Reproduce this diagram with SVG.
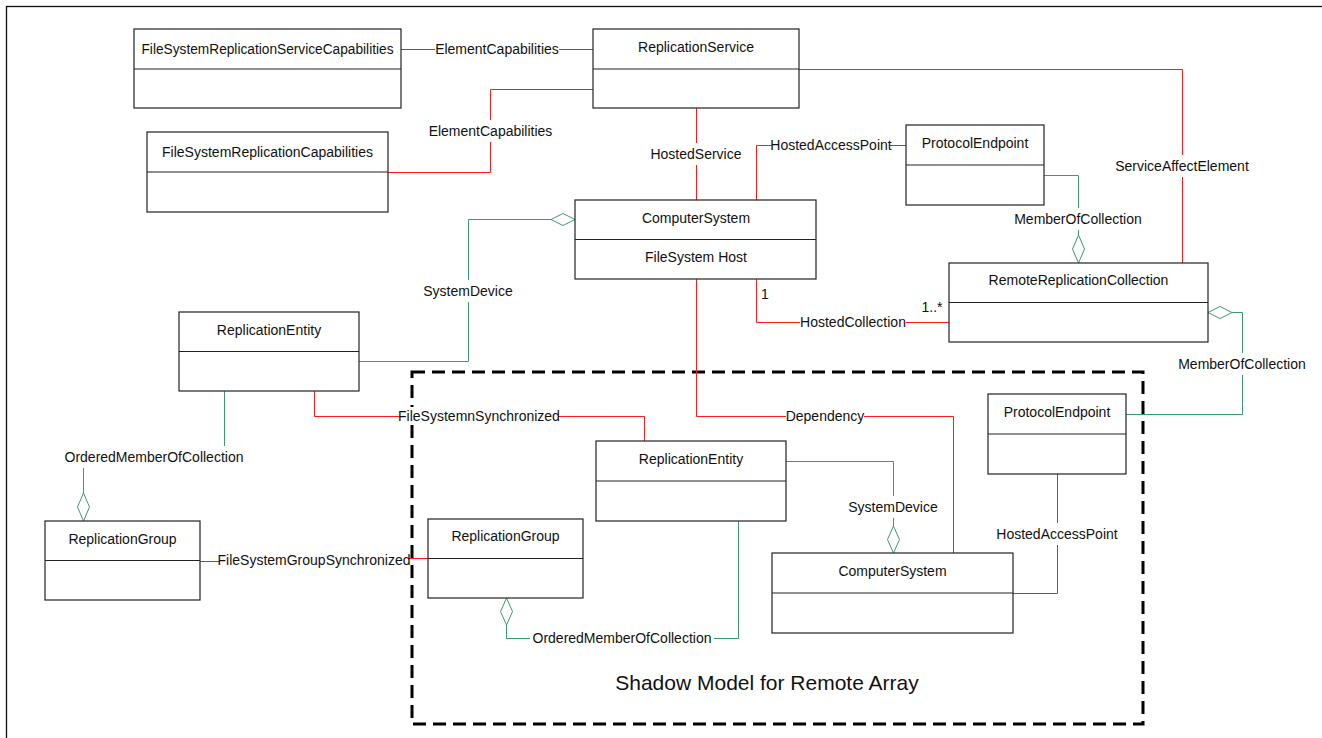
<svg xmlns="http://www.w3.org/2000/svg" width="1322" height="738" viewBox="0 0 1322 738">
<style>
.box{fill:#fff;stroke:#222;stroke-width:1.2}
.div{stroke:#222;stroke-width:1.2}
.t{font-family:"Liberation Sans",Arial,sans-serif;font-size:14px;fill:#111;text-anchor:middle}
.red{fill:none;stroke:#ff1a1a;stroke-width:1}
.grn{fill:none;stroke:#3d9a6a;stroke-width:1}
.dia{fill:#fff;stroke:#3d9a6a;stroke-width:1}
.bg{fill:#fff}
.big{font-family:"Liberation Sans",Arial,sans-serif;font-size:21px;fill:#111;text-anchor:middle}
</style>
<rect x="0" y="0" width="1322" height="738" fill="#fff"/>
<rect x="6.5" y="6.5" width="1330" height="745" fill="none" stroke="#111" stroke-width="1.3"/>
<rect id="shadow-frame" x="412" y="372" width="731" height="352" fill="none" stroke="#000" stroke-width="3" stroke-dasharray="13 7"/>
<text class="big" x="767" y="690">Shadow Model for Remote Array</text>

<g id="connectors">
<path class="red" d="M401 49.5 H593"/>
<path class="red" d="M593 89.5 H490.5 V172.5 H388"/>
<path class="red" d="M696.5 108 V200"/>
<path class="red" d="M756.5 200 V145.5 H906"/>
<path class="red" d="M799 69.5 H1182.5 V263"/>
<path class="red" d="M756.5 279 V322.5 H949"/>
<path class="red" d="M314.5 391 V416.5 H644.5 V441"/>
<path class="red" d="M696.5 279 V416.5 H953.5 V553"/>
<path class="red" d="M1057.5 474 V593.5 H1013"/>
<path class="red" d="M200 561.5 H314 V558.5 H428"/>
<path class="grn" d="M1044 175.5 H1078.5 V235"/>
<path class="dia" d="M1078.5 235 L1084.5 249 L1078.5 263 L1072.5 249 Z"/>
<path class="grn" d="M1126 414.5 H1242.5 V312.5 H1232"/>
<path class="dia" d="M1208 312.5 L1220 306.5 L1232 312.5 L1220 318.5 Z"/>
<path class="grn" d="M359 361.5 H468.5 V219.5 H551"/>
<path class="dia" d="M551 219.5 L563 213.5 L575 219.5 L563 225.5 Z"/>
<path class="grn" d="M224.5 391 V457.5 H83.5 V493"/>
<path class="dia" d="M83.5 493 L89.5 507 L83.5 521 L77.5 507 Z"/>
<path class="grn" d="M786 461.5 H893.5 V526"/>
<path class="dia" d="M893.5 526 L899.5 539.5 L893.5 553 L887.5 539.5 Z"/>
<path class="grn" d="M738.5 521 V638.5 H506.5 V625"/>
<path class="dia" d="M506.5 598 L512.5 611.5 L506.5 625 L500.5 611.5 Z"/>

<rect class="bg" x="435" y="40" width="124" height="18"/>
<text class="t" x="497" y="54">ElementCapabilities</text>
<rect class="bg" x="428" y="120" width="125" height="22"/>
<text class="t" x="490.5" y="136">ElementCapabilities</text>
<rect class="bg" x="651" y="143" width="90" height="22"/>
<text class="t" x="696" y="159">HostedService</text>
<rect class="bg" x="772" y="136" width="118" height="18"/>
<text class="t" x="831" y="150">HostedAccessPoint</text>
<rect class="bg" x="1114" y="155" width="136" height="22"/>
<text class="t" x="1182" y="171">ServiceAffectElement</text>
<rect class="bg" x="1013" y="208" width="131" height="22"/>
<text class="t" x="1078" y="224">MemberOfCollection</text>
<rect class="bg" x="800" y="313" width="106" height="18"/>
<text class="t" x="853" y="327">HostedCollection</text>
<text class="t" x="765" y="299">1</text>
<text class="t" x="932" y="312">1..*</text>
<rect class="bg" x="1177" y="353" width="131" height="22"/>
<text class="t" x="1242" y="369">MemberOfCollection</text>
<rect class="bg" x="424" y="280" width="88" height="22"/>
<text class="t" x="468" y="296">SystemDevice</text>
<rect class="bg" x="61" y="446" width="185" height="22"/>
<text class="t" x="154" y="462">OrderedMemberOfCollection</text>
<rect class="bg" x="400" y="407" width="158" height="18"/>
<text class="t" x="479" y="421">FileSystemnSynchronized</text>
<rect class="bg" x="786" y="407" width="78" height="18"/>
<text class="t" x="825" y="421">Dependency</text>
<rect class="bg" x="849" y="496" width="89" height="22"/>
<text class="t" x="893" y="512">SystemDevice</text>
<rect class="bg" x="997" y="523" width="120" height="22"/>
<text class="t" x="1057" y="539">HostedAccessPoint</text>
<rect class="bg" x="220" y="551" width="189" height="18"/>
<text class="t" x="314" y="565">FileSystemGroupSynchronized</text>
<rect class="bg" x="530" y="629" width="184" height="18"/>
<text class="t" x="622" y="643">OrderedMemberOfCollection</text>
</g>

<g id="fsrsc">
<rect class="box" x="134" y="29" width="267" height="79"/>
<line class="div" x1="134" y1="69" x2="401" y2="69"/>
<text class="t" x="267.5" y="54" textLength="252" lengthAdjust="spacingAndGlyphs">FileSystemReplicationServiceCapabilities</text>
</g>
<g id="fsrc">
<rect class="box" x="147" y="132" width="241" height="80"/>
<line class="div" x1="147" y1="172" x2="388" y2="172"/>
<text class="t" x="267.5" y="157">FileSystemReplicationCapabilities</text>
</g>
<g id="replication-service">
<rect class="box" x="593" y="29" width="206" height="79"/>
<line class="div" x1="593" y1="69" x2="799" y2="69"/>
<text class="t" x="696" y="52">ReplicationService</text>
</g>
<g id="computer-system">
<rect class="box" x="575" y="200" width="241" height="79"/>
<line class="div" x1="575" y1="239.5" x2="816" y2="239.5"/>
<text class="t" x="696" y="223">ComputerSystem</text>
<text class="t" x="696" y="262">FileSystem Host</text>
</g>
<g id="protocol-endpoint">
<rect class="box" x="906" y="125" width="138" height="80"/>
<line class="div" x1="906" y1="165" x2="1044" y2="165"/>
<text class="t" x="975" y="148">ProtocolEndpoint</text>
</g>
<g id="remote-replication-collection">
<rect class="box" x="949" y="263" width="259" height="79"/>
<line class="div" x1="949" y1="302.5" x2="1208" y2="302.5"/>
<text class="t" x="1078.5" y="285">RemoteReplicationCollection</text>
</g>
<g id="replication-entity">
<rect class="box" x="179" y="312" width="180" height="79"/>
<line class="div" x1="179" y1="351.5" x2="359" y2="351.5"/>
<text class="t" x="269" y="335">ReplicationEntity</text>
</g>
<g id="replication-group">
<rect class="box" x="45" y="521" width="155" height="79"/>
<line class="div" x1="45" y1="560.5" x2="200" y2="560.5"/>
<text class="t" x="122.5" y="544">ReplicationGroup</text>
</g>
<g id="shadow-replication-entity">
<rect class="box" x="596" y="441" width="190" height="80"/>
<line class="div" x1="596" y1="481" x2="786" y2="481"/>
<text class="t" x="691" y="464">ReplicationEntity</text>
</g>
<g id="shadow-replication-group">
<rect class="box" x="428" y="519" width="155" height="79"/>
<line class="div" x1="428" y1="558.5" x2="583" y2="558.5"/>
<text class="t" x="505.5" y="541">ReplicationGroup</text>
</g>
<g id="shadow-protocol-endpoint">
<rect class="box" x="988" y="394" width="138" height="80"/>
<line class="div" x1="988" y1="434" x2="1126" y2="434"/>
<text class="t" x="1057" y="417">ProtocolEndpoint</text>
</g>
<g id="shadow-computer-system">
<rect class="box" x="772" y="553" width="241" height="80"/>
<line class="div" x1="772" y1="593" x2="1013" y2="593"/>
<text class="t" x="892.5" y="576">ComputerSystem</text>
</g>
</svg>
